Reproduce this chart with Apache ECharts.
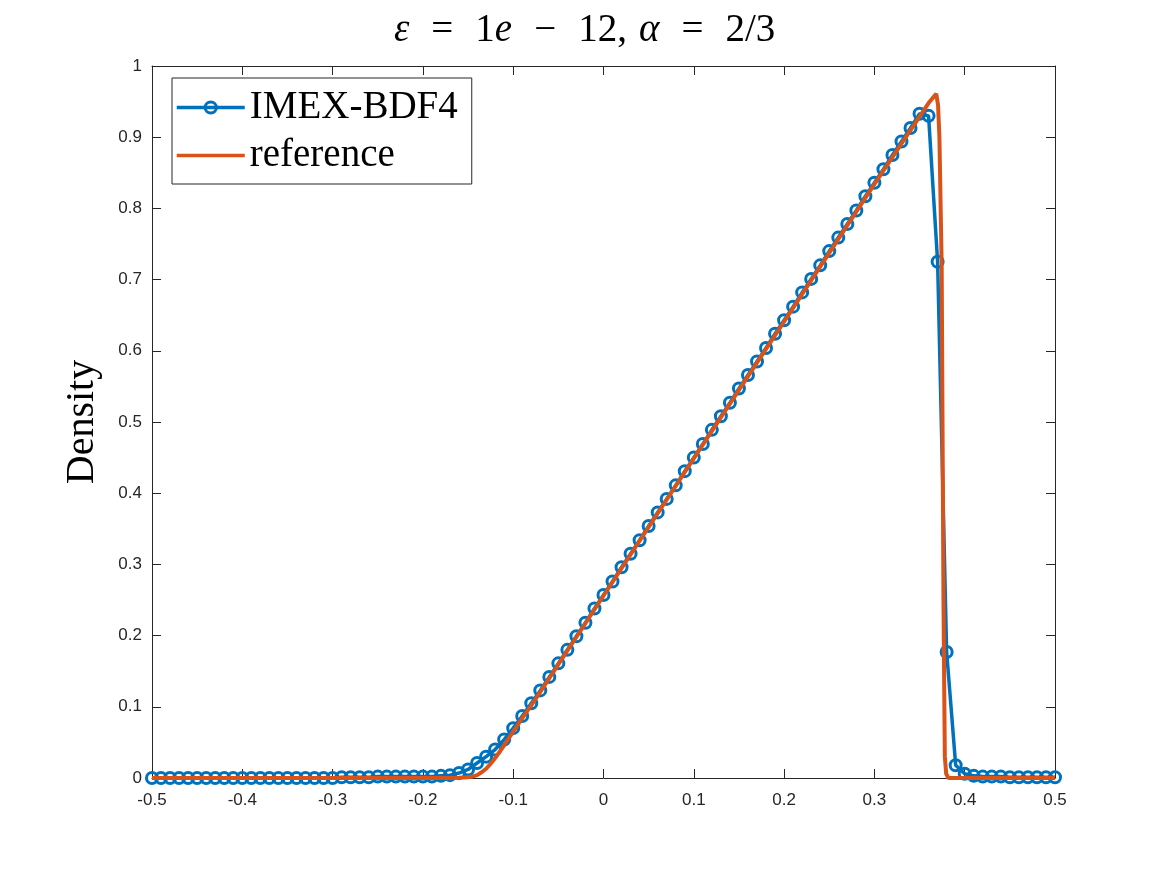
<!DOCTYPE html>
<html>
<head>
<meta charset="utf-8">
<script src="https://cdn.jsdelivr.net/npm/echarts@6/dist/echarts.min.js"></script>
<style>html,body{margin:0;padding:0;background:#fff;}#chart{width:1167px;height:875px;}</style>
</head>
<body>
<div id="chart"></div>
<script>
// ---- data ----
const xTickLabels = ['-0.5','-0.4','-0.3','-0.2','-0.1','0','0.1','0.2','0.3','0.4','0.5'];
const yTickLabels = ['0','0.1','0.2','0.3','0.4','0.5','0.6','0.7','0.8','0.9','1'];

const imexX = [-0.50,-0.49,-0.48,-0.47,-0.46,-0.45,-0.44,-0.43,-0.42,-0.41,
  -0.40,-0.39,-0.38,-0.37,-0.36,-0.35,-0.34,-0.33,-0.32,-0.31,
  -0.30,-0.29,-0.28,-0.27,-0.26,-0.25,-0.24,-0.23,-0.22,-0.21,
  -0.20,-0.19,-0.18,-0.17,-0.16,-0.15,-0.14,-0.13,-0.12,-0.11,
  -0.10,-0.09,-0.08,-0.07,-0.06,-0.05,-0.04,-0.03,-0.02,-0.01,
  0.00,0.01,0.02,0.03,0.04,0.05,0.06,0.07,0.08,0.09,
  0.10,0.11,0.12,0.13,0.14,0.15,0.16,0.17,0.18,0.19,
  0.20,0.21,0.22,0.23,0.24,0.25,0.26,0.27,0.28,0.29,
  0.30,0.31,0.32,0.33,0.34,0.35,0.36,0.37,0.38,0.39,
  0.40,0.41,0.42,0.43,0.44,0.45,0.46,0.47,0.48,0.49,0.50];
const imexY = [0,0,0,0,0,0,0,0,0,0,
  0,0,0,0,0,0,0,0,0,0,
  0,0.001,0.001,0.001,0.001,0.002,0.002,0.002,0.002,0.002,
  0.002,0.002,0.003,0.004,0.007,0.012,0.021,0.030,0.040,0.054,
  0.070,0.087,0.105,0.123,0.142,0.161,0.180,0.199,0.218,0.238,
  0.257,0.276,0.296,0.315,0.334,0.354,0.373,0.392,0.411,0.431,
  0.450,0.469,0.489,0.508,0.527,0.547,0.566,0.585,0.604,0.624,
  0.643,0.662,0.682,0.701,0.720,0.740,0.759,0.778,0.797,0.817,
  0.836,0.855,0.875,0.894,0.913,0.933,0.930,0.725,0.177,0.018,
  0.006,0.003,0.002,0.002,0.002,0.001,0.001,0.001,0.001,0.001,0.001];

const refX = [-0.50,-0.17,-0.16,-0.15,-0.145,-0.14,-0.135,-0.13,-0.125,-0.12,-0.11,-0.10,-0.09,-0.08,-0.07,
  0.00,0.10,0.20,0.30,0.36,0.3685,0.3705,0.372,0.3745,0.3765,0.3775,0.378,0.3795,0.382,0.50];
const refY = [0,0,0.0003,0.001,0.002,0.004,0.008,0.013,0.020,0.028,0.046,0.065,0.084,0.102,0.121,
  0.256,0.449,0.641,0.834,0.948,0.961,0.945,0.900,0.720,0.250,0.100,0.030,0.006,0,0];

// ---- chart ----
const imexData = imexX.map((x, i) => [x, imexY[i]]);
const refData = refX.map((x, i) => [x, refY[i]]);
const axisColor = '#262626';
const serif = "'Liberation Serif', 'DejaVu Serif', serif";
const sans = "'Liberation Sans', Arial, Helvetica, sans-serif";

const chart = echarts.init(document.getElementById('chart'), null, {renderer: 'canvas'});
const xLab = v => xTickLabels[Math.round((v + 0.5) / 0.1)] ?? '';
const yLab = v => yTickLabels[Math.round(v / 0.1)] ?? '';

const refIcon = 'path://M0,0 L0.05,0 L0.05,0.05 L0,0.05 Z M0,5.2 L68,5.2 L68,8.8 L0,8.8 Z M67.95,13.95 L68,13.95 L68,14 L67.95,14 Z';

chart.setOption({
  animation: false,
  backgroundColor: '#ffffff',
  title: {
    text: '{i|ε}{g| }={g| }1{i|e}{g| }−{g| }12,{c| }{i|α}{g| }={g| }2/3',
    left: 389, top: 6,
    textStyle: {
      fontFamily: serif, fontSize: 39, fontWeight: 'normal', color: '#000',
      rich: {
        i: { fontFamily: serif, fontSize: 39, fontStyle: 'italic', color: '#000' },
        g: { fontFamily: serif, fontSize: 39, width: 22 },
        c: { fontFamily: serif, fontSize: 39, width: 12 }
      }
    }
  },
  grid: { left: 152, right: 112, top: 66, bottom: 97, containLabel: false },
  legend: {
    left: 172, top: 78, orient: 'vertical',
    data: [
      { name: 'IMEX-BDF4', lineStyle: { width: 3.5 }, itemStyle: { borderWidth: 3 } },
      { name: 'reference', icon: refIcon }
    ],
    backgroundColor: '#fff',
    borderColor: axisColor, borderWidth: 1, borderRadius: 0,
    padding: [10, 14, 9, 3], itemGap: 9,
    itemWidth: 68, itemHeight: 14,
    textStyle: { fontFamily: serif, fontSize: 39, color: '#000' }
  },
  xAxis: [{
    type: 'value', min: -0.5, max: 0.5, interval: 0.1,
    axisLine: { show: true, onZero: false, lineStyle: { color: axisColor, width: 1 } },
    axisTick: { show: true, inside: true, length: 9, lineStyle: { color: axisColor } },
    axisLabel: { formatter: xLab, color: axisColor, fontFamily: sans, fontSize: 17, margin: 14 },
    splitLine: { show: false }
  }, {
    type: 'value', position: 'top', min: -0.5, max: 0.5, interval: 0.1,
    axisLine: { show: true, onZero: false, lineStyle: { color: axisColor, width: 1 } },
    axisTick: { show: true, inside: true, length: 9, lineStyle: { color: axisColor } },
    axisLabel: { show: false }, splitLine: { show: false }
  }],
  yAxis: [{
    type: 'value', min: 0, max: 1, interval: 0.1,
    name: 'Density', nameLocation: 'middle', nameGap: 50, nameRotate: 90,
    nameTextStyle: { fontFamily: serif, fontSize: 40, color: '#000' },
    axisLine: { show: true, onZero: false, lineStyle: { color: axisColor, width: 1 } },
    axisTick: { show: true, inside: true, length: 9, lineStyle: { color: axisColor } },
    axisLabel: { formatter: yLab, color: axisColor, fontFamily: sans, fontSize: 17, margin: 10 },
    splitLine: { show: false }
  }, {
    type: 'value', position: 'right', min: 0, max: 1, interval: 0.1,
    axisLine: { show: true, onZero: false, lineStyle: { color: axisColor, width: 1 } },
    axisTick: { show: true, inside: true, length: 9, lineStyle: { color: axisColor } },
    axisLabel: { show: false }, splitLine: { show: false }
  }],
  series: [{
    name: 'IMEX-BDF4', type: 'line', data: imexData,
    xAxisIndex: 0, yAxisIndex: 0, clip: false,
    symbol: 'circle', symbolSize: 11, showAllSymbol: true,
    lineStyle: { color: '#0072BD', width: 3.5 },
    itemStyle: { color: 'rgba(255,255,255,0)', borderColor: '#0072BD', borderWidth: 3 },
    emphasis: { disabled: true }, z: 2
  }, {
    name: 'reference', type: 'line', data: refData,
    xAxisIndex: 0, yAxisIndex: 0, clip: false,
    symbol: 'none', showSymbol: false,
    lineStyle: { color: '#D95319', width: 4 },
    itemStyle: { color: '#D95319' },
    emphasis: { disabled: true }, z: 3
  }]
});
</script>
</body>
</html>
